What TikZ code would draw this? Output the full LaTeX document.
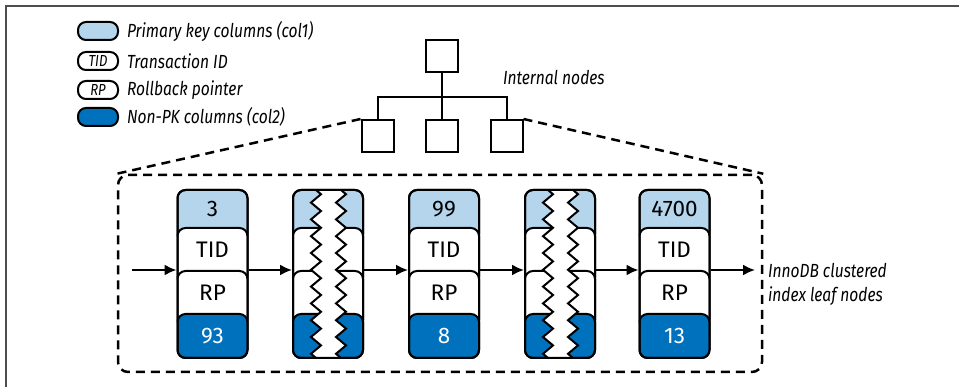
\documentclass[tikz,border=0pt]{standalone}
\usepackage{fontspec}
\setmainfont{Fira Sans}
\newfontfamily\condfont[FakeStretch=0.82]{Fira Sans}
\usetikzlibrary{positioning,arrows.meta,decorations.pathmorphing}
\definecolor{pklight}{HTML}{B4D5EC}
\definecolor{npkblue}{HTML}{0071BC}
\definecolor{framegray}{HTML}{4D4D4D}

% the four stacked cells of one leaf record
\newcommand\cellstack[1]{%
  \draw[cell, fill=pklight] (#1-35,190) rectangle (#1+35,242);
  \draw[cell, fill=white] (#1-35,228) rectangle (#1+35,285);
  \draw[cell, fill=white] (#1-35,271) rectangle (#1+35,328);
  \draw[cell, fill=npkblue] (#1-35,314) rectangle (#1+35,358);}
\newcommand\leafcol[4]{%
  \cellstack{#1}
  \node[colbox] (#2) at (#1,274) {};
  \node[cell text] (#2-pk) at (#1,209) {#3};
  \node[cell text] (#2-tid) at (#1,249.5) {TID};
  \node[cell text] (#2-rp) at (#1,292.5) {RP};
  \node[cell text, white] (#2-val) at (#1,336) {#4};}
\newcommand\gapcol[2]{%
  \cellstack{#1}
  \fill[white, tear] (#1-12,190) decorate {-- (#1-12,358)} -- (#1+13,358) decorate {-- (#1+13,190)} -- cycle;
  \draw[tear, decorate] (#1-12,190) -- (#1-12,358);
  \draw[tear, decorate] (#1+13,358) -- (#1+13,190);
  \node[colbox] (#2) at (#1,274) {};}

\begin{document}
\begin{tikzpicture}[x=1pt, y=-1pt, line width=2pt,
    pill/.style={draw, rounded corners=8pt, minimum width=40pt, minimum height=18pt, inner sep=0pt, font=\fontsize{16}{16}\selectfont\condfont\itshape},
    key/.style={anchor=west, inner sep=0pt, font=\fontsize{19}{24}\selectfont\condfont\itshape},
    tree node/.style={draw, minimum size=32pt, inner sep=0pt},
    colbox/.style={draw, rounded corners=8pt, minimum width=70pt, minimum height=168pt, inner sep=0pt},
    cell/.style={draw, rounded corners=8pt},
    cell text/.style={font=\fontsize{22.5}{22.5}\selectfont},
    tear/.style={decoration={zigzag, segment length=16.8pt, amplitude=5pt}},
    arr/.style={-{Latex[length=12pt, width=11pt]}},
    leafbox/.style={draw, dash pattern=on 9pt off 6pt, line width=2.5pt, rounded corners=10pt, minimum width=644pt, minimum height=197pt},
    dashline/.style={dash pattern=on 9pt off 6pt, line width=2.5pt}]
    \useasboundingbox (0,0) rectangle (959,387);
    \draw[framegray, line width=1.5pt] (6,387) -- (6,6) -- (959,6);
    % legend
    \node[pill, fill=pklight] (lg-pk) at (98,31) {};
    \node[pill] (lg-tid) at (98,61) {TID};
    \node[pill] (lg-rp) at (98,90) {RP};
    \node[pill, fill=npkblue] (lg-npk) at (98,117) {};
    \node[key, right=7pt of lg-pk] (lbl-pk) {Primary key columns (col1)};
    \node[key, right=7pt of lg-tid] (lbl-tid) {Transaction ID};
    \node[key, right=7pt of lg-rp] (lbl-rp) {Rollback pointer};
    \node[key, right=7pt of lg-npk] (lbl-npk) {Non-PK columns (col2)};
    % internal nodes
    \node[tree node] (root) at (441.5,56.5) {};
    \node[tree node] (ib1) at (377.5,136) {};
    \node[tree node] (ib2) at (441.5,136) {};
    \node[tree node] (ib3) at (506.5,136) {};
    \coordinate (fork) at (441.5,97);
    \draw (root) -- (ib2);
    \draw (ib1.north) |- (fork) -| (ib3.north);
    \node[key] (lbl-int) at (502,77) {Internal nodes};
    % leaf level
    \node[leafbox] (leaves) at (440,273.5) {};
    \draw[dashline] (ib1.north west) -- (leaves.north west);
    \draw[dashline] (ib3.north east) -- (leaves.north east);
    \leafcol{212.5}{c1}{3}{93}
    \gapcol{328}{c2}
    \leafcol{444}{c3}{99}{8}
    \gapcol{560}{c4}
    \leafcol{674.5}{c5}{4700}{13}
    \coordinate (in) at (132,270);
    \coordinate (out) at (755,270);
    \draw[arr] (in) -- (c1.west |- in);
    \draw[arr] (c1.east |- in) -- (c2.west |- in);
    \draw[arr] (c2.east |- in) -- (c3.west |- in);
    \draw[arr] (c3.east |- in) -- (c4.west |- in);
    \draw[arr] (c4.east |- in) -- (c5.west |- in);
    \draw[arr] (c5.east |- in) -- (out);
    \node[key, align=left] (lbl-leaf) at (767,284) {InnoDB clustered\\index leaf nodes};
\end{tikzpicture}
\end{document}
